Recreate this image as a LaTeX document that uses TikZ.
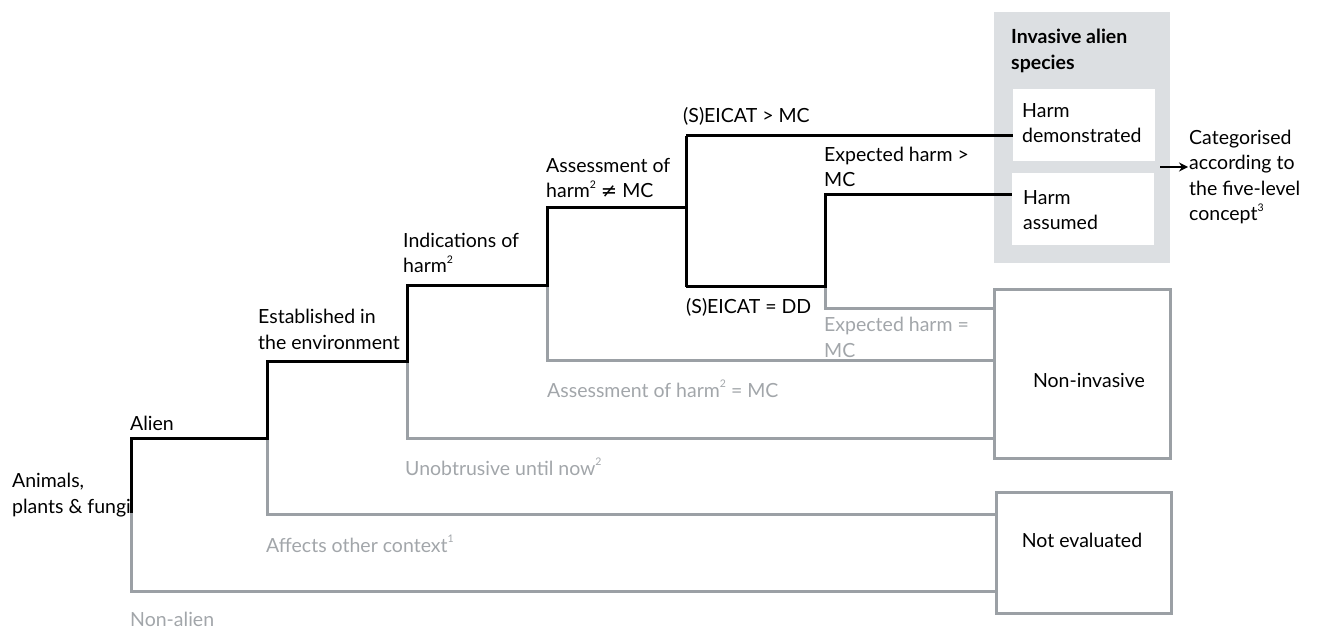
\documentclass[tikz,border=0pt]{standalone}
\usepackage{fontspec}
\setmainfont{Lato}
\newfontfamily\symfont{DejaVu Sans}
\usetikzlibrary{arrows.meta}
\definecolor{lgrey}{HTML}{9BA0A5}
\definecolor{tgrey}{HTML}{A2A6AA}
\definecolor{panelgrey}{HTML}{DCDFE2}
\newcommand\supnum[1]{\raisebox{0.5em}{\fontsize{10.5}{10.5}\selectfont #1}}
\tikzset{
  yesline/.style={draw=black, line width=3pt, line join=miter},
  noline/.style={draw=lgrey, line width=3pt, line join=miter},
  lbl/.style={anchor=base west, inner sep=0pt, align=left, font=\fontsize{19.5}{25.5}\selectfont},
  glbl/.style={lbl, text=tgrey},
  whitebox/.style={fill=white, draw=none, inner sep=0pt},
  endbox/.style={fill=white, draw=lgrey, line width=3pt, inner sep=0pt},
}
\begin{document}
\begin{tikzpicture}[x=1pt,y=-1pt]
\useasboundingbox (0,0) rectangle (1317,628);
% boxes
\node[fill=panelgrey, draw=none, inner sep=0pt, minimum width=176pt, minimum height=251pt, anchor=north west] (panel) at (994,12) {};
\node[whitebox, minimum width=142pt, minimum height=72pt, anchor=north west] (hd) at (1013,89) {};
\node[whitebox, minimum width=142pt, minimum height=72pt, anchor=north west] (ha) at (1012,173) {};
\node[endbox, minimum width=176pt, minimum height=169pt, anchor=north west] (ni) at (993,288) {};
\node[endbox, minimum width=175pt, minimum height=121pt, anchor=north west] (ne) at (995,491) {};
% junction coordinates
\coordinate (root) at (131,513);
\coordinate (j1) at (131,438);
\coordinate (j2) at (267,438);
\coordinate (j3) at (267,361);
\coordinate (j4) at (407,361);
\coordinate (j5) at (407,286);
\coordinate (j6) at (547,286);
\coordinate (j7) at (547,208);
\coordinate (j8) at (686,208);
\coordinate (j9) at (686,136);
\coordinate (j10) at (686,287);
\coordinate (j11) at (825,287);
\coordinate (j12) at (825,195);
% grey branches
\draw[noline] (root) -- (131,591) -- (ne.west |- 0,591);
\draw[noline] (j2) -- (267,514) -- (ne.west |- 0,514);
\draw[noline] (j4) -- (407,438) -- (ni.west |- 0,438);
\draw[noline] (j6) -- (547,360) -- (ni.west |- 0,360);
\draw[noline] (j11) -- (825,309) -- (ni.west |- 0,309);
% black path
\draw[yesline] (root) -- (j1) -- (j2) -- (j3) -- (j4) -- (j5) -- (j6) -- (j7) -- (j8);
\draw[yesline] (j9) -- (j10);
\draw[yesline] (j9) -- (hd.west |- j9);
\draw[yesline] (j10) -- (j11) -- (j12) -- (ha.west |- j12);
% arrow
\coordinate (arrS) at (1160,167);
\coordinate (arrE) at (1188,167);
\draw[line width=2.6pt, -{Stealth[length=9pt,width=9pt]}] (arrS) -- (arrE);
% labels
\node[lbl] (t0) at (12,513) {Animals,\\plants \& fungi};
\node[lbl] (t1) at (130,430) {Alien};
\node[lbl] (t2) at (258,349) {Established in\\the environment};
\node[lbl] (t3) at (403,273) {Indications of\\harm\supnum{2}};
\node[lbl] (t4) at (546,198) {Assessment of\\harm\supnum{2} {\symfont ≠} MC};
\node[lbl] (t5) at (683,123) {(S)EICAT > MC};
\node[lbl] (t6) at (686,313) {(S)EICAT = DD};
\node[lbl] (t7) at (824,187) {Expected harm >\\MC};
\node[glbl] (t8) at (824,357) {Expected harm =\\MC};
\node[glbl] (t9) at (547,397) {Assessment of harm\supnum{2} = MC};
\node[glbl] (t10) at (405,475) {Unobtrusive until now\supnum{2}};
\node[glbl] (t11) at (266,552) {Affects other context\supnum{1}};
\node[glbl] (t12) at (130,626) {Non-alien};
\node[lbl, font=\fontsize{19.5}{26}\selectfont\bfseries] (t13) at (1011,70) {Invasive alien\\species};
\node[lbl] (t14) at (1022,143) {Harm\\demonstrated};
\node[lbl] (t15) at (1023,230) {Harm\\assumed};
\node[lbl] (t16) at (1189,221) {Categorised\\according to\\the five-level\\concept\supnum{3}};
\node[lbl, anchor=base] (t17) at (1089,387) {Non-invasive};
\node[lbl, anchor=base] (t18) at (1082,547) {Not evaluated};
\end{tikzpicture}
\end{document}
